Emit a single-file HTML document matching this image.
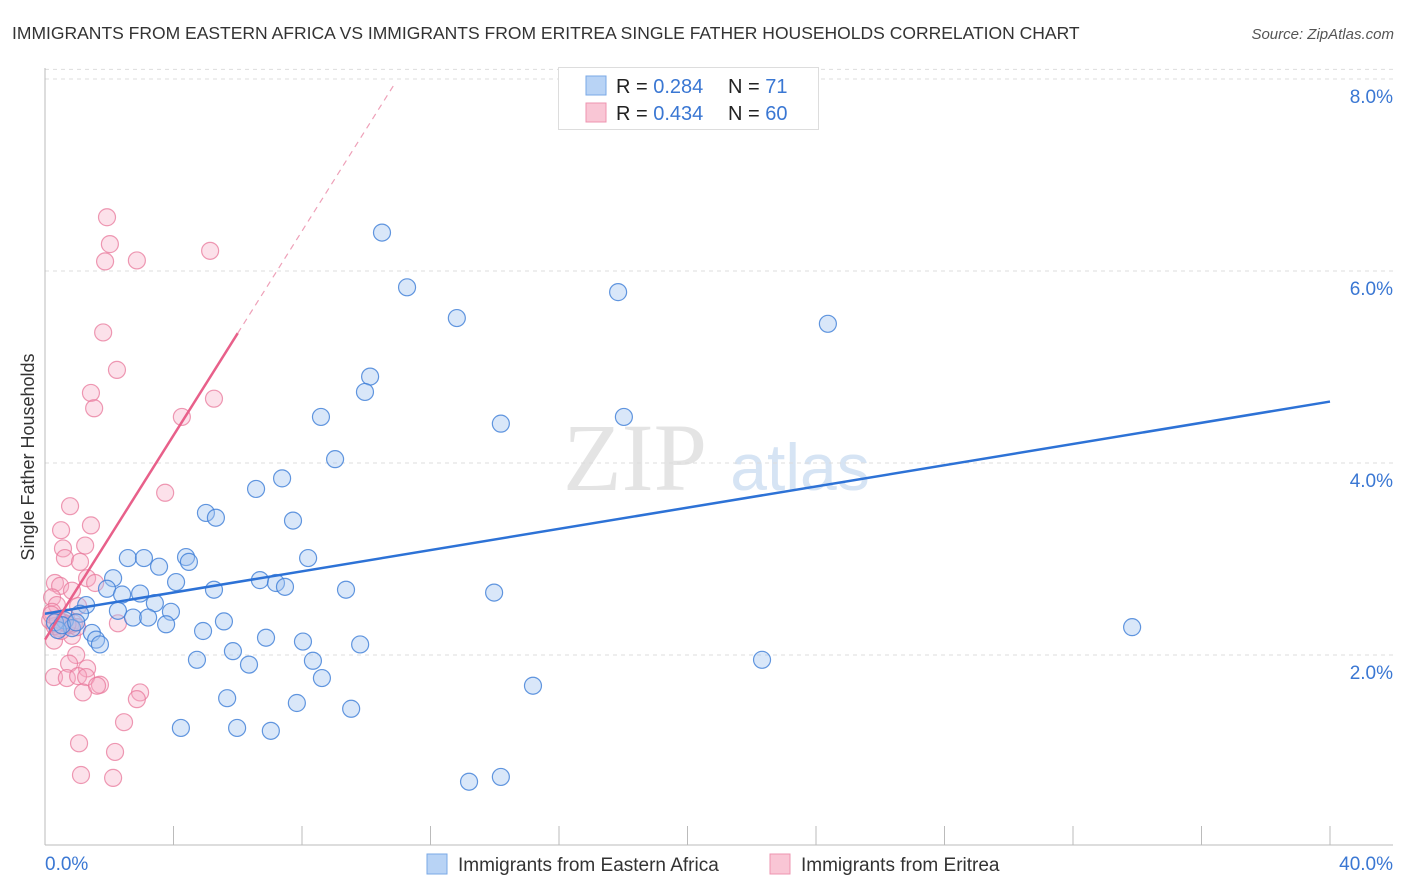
<!DOCTYPE html>
<html><head><meta charset="utf-8"><style>
body{margin:0;background:#fff;font-family:"Liberation Sans",sans-serif;}
svg{display:block}
</style></head><body>
<svg id="chart" width="1406" height="892" xmlns="http://www.w3.org/2000/svg">
<text x="12" y="39" font-size="17.5" fill="#333">IMMIGRANTS FROM EASTERN AFRICA VS IMMIGRANTS FROM ERITREA SINGLE FATHER HOUSEHOLDS CORRELATION CHART</text>
<text x="1394" y="39" font-size="15" fill="#555" font-style="italic" text-anchor="end">Source: ZipAtlas.com</text>
<g>
<text x="635" y="490" font-size="96" font-family="Liberation Serif" fill="#e4e4e4" text-anchor="middle">ZIP</text>
<text x="800" y="490" font-size="66" fill="#d6e4f4" text-anchor="middle">atlas</text>
</g>
<g id="grid"></g>
<g id="axes"></g>
<g id="pts"></g>
<g id="lines"></g>
<text transform="translate(34,457) rotate(-90)" font-size="18" fill="#333" text-anchor="middle">Single Father Households</text>
<g>
<rect x="558.5" y="67.5" width="260" height="62" fill="#fff" stroke="#ddd"/>
<rect x="586" y="76" width="20" height="19" fill="#b8d3f5" stroke="#7aa8e6"/>
<rect x="586" y="103" width="20" height="19" fill="#f9c6d5" stroke="#ee94b0"/>
<text x="616" y="93" font-size="20" fill="#222">R = <tspan fill="#3a77d3">0.284</tspan></text>
<text x="728" y="93" font-size="20" fill="#222">N = <tspan fill="#3a77d3"> 71</tspan></text>
<text x="616" y="120" font-size="20" fill="#222">R = <tspan fill="#3a77d3">0.434</tspan></text>
<text x="728" y="120" font-size="20" fill="#222">N = <tspan fill="#3a77d3">60</tspan></text>
</g>
<g>
<rect x="427" y="854" width="20" height="20" fill="#b8d3f5" stroke="#7aa8e6"/>
<text x="458" y="871" font-size="19" fill="#333">Immigrants from Eastern Africa</text>
<rect x="770" y="854" width="20" height="20" fill="#f9c6d5" stroke="#ee94b0"/>
<text x="801" y="871" font-size="19" fill="#333">Immigrants from Eritrea</text>
</g>
</svg>
<script>
const yTicks=[2,4,6,8];
const yTickLabels=["2.0%","4.0%","6.0%","8.0%"];
const xTicks=[0,4,8,12,16,20,24,28,32,36,40];
const xEndLabels=["0.0%","40.0%"];
const blueX=[10.49,11.27,12.82,17.84,24.37,10.12,9.96,8.59,14.19,18.02,9.03,6.57,7.38,5.01,5.32,7.72,2.58,3.08,4.39,4.48,3.55,8.19,2.12,4.08,6.69,7.19,7.47,1.93,2.40,2.96,5.26,9.37,13.98,1.28,3.42,2.27,2.74,3.21,3.92,3.77,5.57,1.09,0.62,0.31,0.84,1.46,4.92,1.59,1.71,6.88,8.03,9.81,33.84,5.85,4.73,6.35,8.34,22.32,8.62,15.19,5.67,7.84,9.53,4.23,5.98,7.03,13.2,14.19,0.40,0.53,0.97];
const blueY=[6.40,5.83,5.51,5.78,5.45,4.90,4.74,4.48,4.41,4.48,4.04,3.73,3.84,3.48,3.43,3.40,3.01,3.01,3.02,2.97,2.92,3.01,2.80,2.76,2.78,2.75,2.71,2.69,2.63,2.64,2.68,2.68,2.65,2.52,2.54,2.46,2.39,2.39,2.45,2.32,2.35,2.43,2.36,2.34,2.28,2.23,2.25,2.16,2.11,2.18,2.14,2.11,2.29,2.04,1.95,1.90,1.94,1.95,1.76,1.68,1.55,1.50,1.44,1.24,1.24,1.21,0.68,0.73,2.26,2.31,2.34];
const pinkX=[1.93,2.02,1.87,2.86,5.14,1.81,2.24,1.43,1.53,4.26,5.26,3.74,0.78,1.43,0.50,1.25,0.56,0.62,1.09,1.31,0.31,0.47,1.56,0.84,0.22,0.37,1.03,0.22,2.27,0.16,0.47,0.84,0.28,0.97,0.75,1.31,0.28,0.68,1.03,1.28,1.71,1.18,2.96,2.86,2.46,1.06,2.18,1.12,2.12,1.62,0.65,0.56,0.78,0.3,0.9,0.2,0.5,1.0,0.4,0.7];
const pinkY=[6.56,6.28,6.10,6.11,6.21,5.36,4.97,4.73,4.57,4.48,4.67,3.69,3.55,3.35,3.30,3.14,3.11,3.01,2.97,2.80,2.75,2.72,2.75,2.67,2.60,2.52,2.51,2.45,2.33,2.36,2.28,2.20,2.15,2.00,1.91,1.86,1.77,1.76,1.78,1.77,1.69,1.61,1.61,1.54,1.30,1.08,0.99,0.75,0.72,1.68,2.39,2.34,2.31,2.30,2.33,2.42,2.25,2.29,2.37,2.32];
const blueFit=[2.43,0.05525];
const pinkFit=[2.16,0.532];
const pinkSolidEnd=6.0, pinkDashEnd=10.9;

const NS="http://www.w3.org/2000/svg";
const X=v=>45+v/40*1285;
const Y=v=>847-v*96;
function mk(tag,attrs,parent){const e=document.createElementNS(NS,tag);for(const k in attrs)e.setAttribute(k,attrs[k]);document.getElementById(parent).appendChild(e);return e;}
yTicks.forEach((t,i)=>{
  const l=mk('line',{x1:45,x2:1393,y1:Y(t),y2:Y(t),stroke:'#ddd','stroke-dasharray':'4,4'},'grid');
  
  
  const tx=mk('text',{x:1393,y:Y(t)+24,'font-size':19,fill:'#3a77d3','text-anchor':'end'},'grid');
  
  
  tx.textContent=yTickLabels[i];
});
const gl=mk('line',{x1:45,x2:1393,y1:Y(8.1),y2:Y(8.1),stroke:'#ddd','stroke-dasharray':'4,4'},'grid');


const ax=mk('line',{x1:45,x2:1393,y1:845,y2:845,stroke:'#bbb'},'axes');


const ay=mk('line',{x1:45,x2:45,y1:68,y2:845,stroke:'#bbb'},'axes');


xTicks.forEach(t=>{
  const l=mk('line',{x1:X(t),x2:X(t),y1:826,y2:845,stroke:'#bbb'},'axes');
  
  
});
[[0,'start',45],[40,'end',1393]].forEach((d,i)=>{
  const tx=mk('text',{x:d[2],y:870,'font-size':19,fill:'#3a77d3','text-anchor':d[1]},'axes');
  
  
  tx.textContent=xEndLabels[i];
});
pinkX.forEach((v,i)=>{
  const c=mk('circle',{cx:X(v),cy:Y(pinkY[i]),r:8.5,fill:'rgba(246,170,195,0.35)',stroke:'rgba(232,120,155,0.75)','stroke-width':1.2},'pts');
  
  
});
blueX.forEach((v,i)=>{
  const c=mk('circle',{cx:X(v),cy:Y(blueY[i]),r:8.5,fill:'rgba(160,195,240,0.4)',stroke:'rgba(60,125,215,0.8)','stroke-width':1.2},'pts');
  
  
});
const bl=mk('line',{x1:X(0),y1:Y(blueFit[0]),x2:X(40),y2:Y(blueFit[0]+blueFit[1]*40),stroke:'#2d72d6','stroke-width':2.5},'lines');


const pl=mk('line',{x1:X(0),y1:Y(pinkFit[0]),x2:X(pinkSolidEnd),y2:Y(pinkFit[0]+pinkFit[1]*pinkSolidEnd),stroke:'#e8608a','stroke-width':2.5},'lines');


const pd=mk('line',{x1:X(pinkSolidEnd),y1:Y(pinkFit[0]+pinkFit[1]*pinkSolidEnd),x2:X(pinkDashEnd),y2:Y(pinkFit[0]+pinkFit[1]*pinkDashEnd),stroke:'#eea0b8','stroke-width':1.2,'stroke-dasharray':'6,5'},'lines');


</script>
</body></html>
